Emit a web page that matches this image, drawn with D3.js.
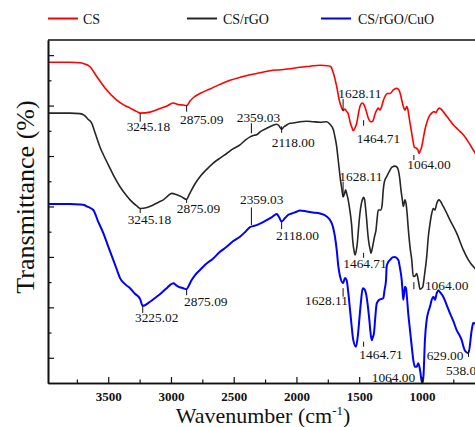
<!DOCTYPE html>
<html>
<head>
<meta charset="utf-8">
<script src="https://cdn.jsdelivr.net/npm/d3@7"></script>
<style>
  body { margin: 0; background: #fff; }
  svg { display: block; }
  text { font-family: "Liberation Serif", "Times New Roman", serif; }
</style>
</head>
<body>
<svg id="chart" width="475" height="427"></svg>
<script>
// ---- FTIR spectra (wavenumber in cm-1, transmittance in offset % units) ----
const seriesNames = ["CS", "CS/rGO", "CS/rGO/CuO"];

const csWn = [3980,3805,3725,3693,3645,3590,3526,3432,3374,3326,3271,3245,3167,3087,3032,2984,2944,2904,2875,2848,2816,2769,2689,2609,2530,2450,2370,2290,2211,2131,2051,1972,1892,1812,1749,1725,1709,1693,1677,1661,1639,1628,1613,1600,1589,1573,1557,1547,1533,1520,1505,1494,1475,1462,1446,1427,1408,1398,1388,1374,1362,1348,1334,1321,1306,1294,1276,1254,1228,1201,1183,1167,1159,1148,1135,1121,1111,1103,1091,1081,1071,1061,1042,1031,1023,1014,1002,991,976,960,949,936,922,904,888,876,862,848,830,812,790,750,710,670,630,591,553,497,400];
const csT = [58.6,58.6,58.5,58.3,57.7,55.7,53.5,51.1,50.1,49.5,48.8,48.5,48.7,49.4,49.9,50.5,50.2,50.1,50.0,50.9,51.7,52.4,53.3,54.2,55.0,55.6,56.1,56.5,56.9,57.1,57.3,57.6,57.8,58.0,57.9,57.7,56.7,55.3,53.5,51.3,49.5,49.0,49.3,48.8,48.5,46.8,45.6,45.0,45.6,46.5,48.5,49.8,50.5,50.2,49.1,47.5,46.8,46.8,47.1,48.3,49.0,49.5,49.1,49.8,51.1,51.8,52.4,52.4,53.1,53.4,53.1,51.8,50.9,49.8,49.1,49.8,49.1,47.8,46.0,44.5,43.0,41.8,41.5,41.2,40.5,41.0,41.8,43.2,45.2,46.7,47.5,48.1,48.5,48.8,48.6,49.1,49.5,49.3,48.8,48.2,47.5,46.2,45.2,44.2,42.8,41.2,39.8,38.6,37.6];

const rgoWn = [3980,3805,3725,3693,3661,3632,3605,3566,3526,3486,3446,3406,3366,3326,3273,3245,3191,3141,3103,3061,3024,2994,2954,2914,2875,2856,2835,2808,2769,2721,2663,2609,2556,2506,2450,2410,2370,2338,2317,2290,2237,2195,2157,2139,2118,2099,2075,2051,2012,1972,1918,1868,1812,1759,1733,1706,1693,1679,1669,1658,1649,1639,1628,1617,1608,1600,1589,1579,1569,1560,1552,1541,1533,1525,1515,1505,1494,1483,1472,1466,1458,1449,1440,1430,1422,1412,1406,1398,1388,1377,1366,1358,1348,1329,1318,1308,1298,1281,1254,1239,1215,1199,1188,1177,1167,1157,1148,1135,1125,1119,1109,1095,1081,1069,1055,1042,1029,1015,994,981,962,949,936,922,909,896,882,864,830,776,723,670,630,577,497,400];
const rgoT = [48.5,48.5,48.4,48.1,47.3,46.5,44.6,41.8,39.6,37.6,35.6,33.9,32.5,31.3,30.1,29.6,29.8,30.3,30.8,31.3,32.1,32.6,32.3,31.9,31.4,32.3,33.3,34.5,35.9,37.2,38.6,39.6,40.5,41.4,42.2,43.1,43.8,44.1,44.2,44.8,45.5,46.0,46.3,46.0,45.3,45.8,46.2,46.5,46.6,46.8,46.9,46.8,46.7,46.8,46.3,45.2,43.8,41.8,39.6,37.2,35.2,33.6,31.9,32.5,33.3,32.6,31.5,30.0,28.3,26.3,23.4,21.2,20.4,21.0,22.7,25.7,28.6,30.5,31.5,31.8,31.5,29.7,27.3,24.3,22.7,21.4,20.7,21.4,22.7,24.1,25.3,27.3,29.3,29.3,30.1,33.3,35.0,35.9,37.2,37.8,38.0,37.8,37.2,35.6,33.3,31.5,30.0,31.3,30.3,28.9,25.7,22.0,19.4,16.1,16.2,16.7,15.4,13.6,14.0,16.1,20.0,24.0,26.5,28.6,29.6,29.3,30.6,31.3,30.0,27.3,24.7,21.4,19.4,17.7,16.4,15.4];

const cuoWn = [3980,3805,3725,3693,3661,3619,3582,3539,3502,3460,3430,3406,3366,3326,3287,3247,3225,3167,3114,3079,3034,3008,2981,2960,2942,2902,2875,2856,2835,2808,2769,2721,2663,2609,2556,2506,2450,2410,2370,2346,2317,2290,2237,2195,2157,2139,2118,2091,2067,2038,2004,1972,1918,1868,1812,1759,1719,1693,1679,1666,1653,1628,1613,1600,1587,1573,1560,1547,1525,1511,1499,1486,1472,1459,1446,1432,1419,1410,1400,1391,1382,1372,1360,1340,1308,1298,1286,1281,1268,1254,1235,1215,1188,1175,1161,1153,1148,1135,1127,1119,1109,1095,1081,1069,1055,1042,1029,1015,1002,995,987,976,962,949,936,922,909,896,882,869,856,830,803,776,750,723,697,683,670,657,629,603,591,577,561,534,497,400];
const cuoT = [30.5,30.5,30.4,30.3,29.9,29.3,27.1,24.7,22.2,19.4,17.4,15.8,14.6,13.8,12.7,11.7,10.3,11.1,12.1,12.8,13.8,14.4,14.8,14.4,14.1,13.8,13.6,14.4,15.4,16.4,17.4,18.6,19.7,21.0,22.0,23.1,24.0,24.9,25.9,26.1,26.3,26.6,27.3,27.9,28.5,27.9,27.0,27.7,28.3,28.6,28.9,29.2,29.0,28.8,28.6,28.0,26.7,24.0,21.4,18.1,16.2,14.8,15.8,15.4,13.0,9.5,6.3,3.5,2.2,4.3,7.5,11.1,13.8,13.6,12.8,10.5,7.5,5.1,3.5,4.1,4.9,7.9,10.8,11.5,11.8,13.4,15.4,18.1,19.0,19.4,19.9,20.0,19.4,17.8,15.4,12.8,11.5,14.1,13.8,11.9,8.8,5.5,2.2,-0.4,-1.8,-1.8,-1.1,-2.4,-4.6,-5.0,-3.4,3.5,7.5,9.1,10.1,11.5,12.1,11.5,12.8,13.4,13.0,12.1,10.5,8.8,7.3,5.5,4.3,3.5,2.3,1.4,0.9,5.5,6.9,6.8,5.5,2.5,0.55,-0.4];

// Band positions annotated on each spectrum (cm-1)
const csPeaks  = [3245.18, 2875.09, 1628.11, 1464.71, 1064.00];
const rgoPeaks = [3245.18, 2875.09, 2359.03, 2118.00, 1628.11, 1464.71, 1064.00];
const cuoPeaks = [3225.02, 2875.09, 2359.03, 2118.00, 1628.11, 1464.71, 1064.00, 629.00, 538.00];

// Axis ticks
const xMajorTicks = [3500, 3000, 2500, 2000, 1500, 1000];
const xMinorTicks = [3750, 3250, 2750, 2250, 1750, 1250, 750];
const yMajorTicks = [0, 10, 20, 30, 40, 50, 60];
const yMinorTicks = [5, 15, 25, 35, 45, 55];

// ---- layout for the band annotations: [tick from, tick to, label wavenumber, label transmittance]
const csPeakLayout = [
  [48.5, 46.8, 3353, 45.8],
  [50.0, 48.8, 2928, 47.3],
  [49.0, 51.3, 1666, 52.4],
  [47.1, 46.0, 1520, 43.5],
  [40.2, 39.2, 1117, 38.4]
];
const rgoPeakLayout = [
  [29.6, 28.7, 3345, 27.5],
  [31.4, 30.7, 2954, 29.6],
  [44.5, 46.5, 2476, 47.7],
  [45.9, 44.6, 2197, 42.6],
  [31.9, 34.9, 1658, 35.9],
  [20.8, 19.8, 1627, 18.7],
  [15.0, 13.6, 976, 14.3]
];
const cuoPeakLayout = [
  [10.3, 8.9, 3287, 7.9],
  [13.6, 12.4, 2896, 11.1],
  [29.8, 26.3, 2450, 31.3],
  [27.0, 25.5, 2163, 24.3],
  [13.8, 12.1, 1932, 11.3],
  [3.2, 2.2, 1499, 0.65],
  [null, null, 1400, -3.9],
  [1.5, 0.15, 962, 0.55],
  [-0.5, -1.5, 808, -2.6]
];

const colors = ["#ff0000", "#262626", "#0000ff"];
const widths = [1.6, 1.6, 2.0];

// ---- scales ----
const svg = d3.select("#chart");
const plotLeft = 48, plotTop = 40, plotBottom = 383, plotRight = 497.2;
const x = d3.scaleLinear().domain([3980, 400]).range([plotLeft, plotRight]);
const y = d3.scaleLinear().domain([-5, 63]).range([plotBottom, plotTop]);

const series = [
  { name: seriesNames[0], wn: csWn, t: csT, peaks: csPeaks, layout: csPeakLayout },
  { name: seriesNames[1], wn: rgoWn, t: rgoT, peaks: rgoPeaks, layout: rgoPeakLayout },
  { name: seriesNames[2], wn: cuoWn, t: cuoT, peaks: cuoPeaks, layout: cuoPeakLayout }
];

svg.append("defs").append("clipPath").attr("id", "plotClip")
  .append("rect").attr("x", plotLeft).attr("y", plotTop)
  .attr("width", plotRight - plotLeft).attr("height", plotBottom - plotTop + 1);

// ---- spectra ----
const line = d3.line().x(d => x(d[0])).y(d => y(d[1])).curve(d3.curveMonotoneX);
const plot = svg.append("g").attr("clip-path", "url(#plotClip)");
series.forEach((s, i) => {
  plot.append("path")
    .datum(d3.zip(s.wn, s.t))
    .attr("fill", "none")
    .attr("stroke", colors[i])
    .attr("stroke-width", widths[i])
    .attr("stroke-linejoin", "round")
    .attr("d", line);
});

// ---- band annotations ----
const fmt = d3.format(".2f");
const ann = svg.append("g");
series.forEach(s => {
  s.peaks.forEach((p, j) => {
    const [t1, t2, lx, ly] = s.layout[j];
    if (t1 !== null) {
      ann.append("line")
        .attr("x1", x(p)).attr("x2", x(p))
        .attr("y1", y(t1)).attr("y2", y(t2))
        .attr("stroke", "#111").attr("stroke-width", 1);
    }
    ann.append("text")
      .attr("x", x(lx)).attr("y", y(ly))
      .attr("dy", "0.34em")
      .attr("font-size", "13.4px")
      .attr("fill", "#111")
      .text(fmt(p));
  });
});

// ---- axes ----
const axes = svg.append("g");
const xAxisMajor = d3.axisBottom(x).tickValues(xMajorTicks).tickSizeInner(-6).tickSizeOuter(0).tickPadding(8.5).tickFormat(d3.format("d"));
const xAxisMinor = d3.axisBottom(x).tickValues(xMinorTicks).tickSizeInner(-3.5).tickSizeOuter(0).tickFormat("");
axes.append("g").attr("transform", `translate(0,${plotBottom})`).call(xAxisMinor);
const gx = axes.append("g").attr("transform", `translate(0,${plotBottom})`).call(xAxisMajor);
gx.selectAll("text")
  .attr("font-family", "'Liberation Serif', 'Times New Roman', serif")
  .attr("font-weight", "bold")
  .attr("font-size", "13px")
  .attr("fill", "#111");

const yAxisMajor = d3.axisLeft(y).tickValues(yMajorTicks).tickSizeInner(-6).tickSizeOuter(0).tickFormat("");
const yAxisMinor = d3.axisLeft(y).tickValues(yMinorTicks).tickSizeInner(-3.5).tickSizeOuter(0).tickFormat("");
axes.append("g").attr("transform", `translate(${plotLeft},0)`).call(yAxisMinor);
axes.append("g").attr("transform", `translate(${plotLeft},0)`).call(yAxisMajor);

axes.selectAll(".domain").attr("stroke", "#111").attr("stroke-width", 1.6);
axes.selectAll(".tick line").attr("stroke", "#111").attr("stroke-width", 1.2);

// top frame line
svg.append("line")
  .attr("x1", plotLeft).attr("x2", plotRight).attr("y1", plotTop).attr("y2", plotTop)
  .attr("stroke", "#111").attr("stroke-width", 1.4);

// ---- axis titles ----
const xt = svg.append("text")
  .attr("x", 263).attr("y", 423)
  .attr("text-anchor", "middle")
  .attr("font-size", "22px")
  .attr("fill", "#111");
xt.append("tspan").text("Wavenumber (cm");
xt.append("tspan").attr("font-size", "13px").attr("dy", "-8").text("-1");
xt.append("tspan").attr("font-size", "22px").attr("dy", "8").text(")");

svg.append("text")
  .attr("transform", "translate(34,197) rotate(-90)")
  .attr("text-anchor", "middle")
  .attr("font-size", "26px")
  .attr("fill", "#111")
  .text("Transmittance (%)");

// ---- legend ----
const legendPos = [[48, 83], [187, 223], [321, 358]];
const legend = svg.append("g");
series.forEach((s, i) => {
  const [lx, tx] = legendPos[i];
  legend.append("line")
    .attr("x1", lx).attr("x2", lx + 30).attr("y1", 18.5).attr("y2", 18.5)
    .attr("stroke", colors[i]).attr("stroke-width", 2);
  legend.append("text")
    .attr("x", tx).attr("y", 23.5)
    .attr("font-size", "14px")
    .attr("fill", "#111")
    .text(s.name);
});
</script>
</body>
</html>
